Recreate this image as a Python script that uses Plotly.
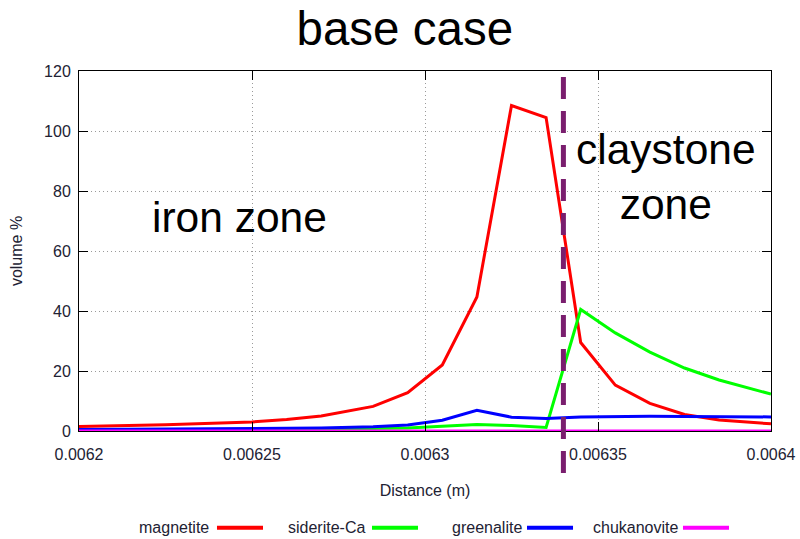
import plotly.graph_objects as go

# ---- data ----
distance = [0.0062, 0.006225, 0.00625, 0.00626, 0.00627, 0.006285, 0.006295, 0.006305,
            0.006315, 0.006325, 0.006335, 0.006345, 0.006355, 0.006365, 0.006375,
            0.006385, 0.006395, 0.0064]
magnetite = [1.5, 2.1, 3.0, 3.8, 5.0, 8.2, 12.8, 22.0, 44.7, 108.5, 104.5, 29.5, 15.3,
             9.2, 5.5, 3.7, 2.8, 2.4]
siderite_ca = [0.3, 0.4, 0.5, 0.55, 0.6, 0.8, 1.0, 1.5, 2.2, 1.8, 1.2, 40.5, 32.7, 26.3,
               21.0, 17.0, 13.7, 12.3]
greenalite = [0.5, 0.6, 0.7, 0.8, 1.0, 1.4, 2.0, 3.6, 6.9, 4.6, 4.2, 4.7, 4.9, 4.9, 4.8,
              4.8, 4.7, 4.7]
chukanovite = [0.0] * len(distance)

series_names = ["magnetite", "siderite-Ca", "greenalite", "chukanovite"]
series_values = [magnetite, siderite_ca, greenalite, chukanovite]
series_colors = ["#FF0000", "#00FF00", "#0000FF", "#FF00FF"]

x_tickvals = [0.0062, 0.00625, 0.0063, 0.00635, 0.0064]
x_ticktext = ["0.0062", "0.00625", "0.0063", "0.00635", "0.0064"]
y_tickvals = [0, 20, 40, 60, 80, 100, 120]

interface_x = 0.00634

FONT = "Liberation Sans, Arial, sans-serif"
TXT = "#222233"

fig = go.Figure()
for name, vals, col in zip(series_names, series_values, series_colors):
    fig.add_trace(go.Scatter(x=distance, y=vals, mode="lines", name=name,
                             line=dict(color=col, width=3), showlegend=False))

# dashed interface line
fig.add_shape(type="line", xref="x", yref="paper", x0=interface_x, x1=interface_x,
              y0=-0.117, y1=1.012, line=dict(color="#7A1E6E", width=5, dash="22px,12px"))

# custom legend (text then line sample), paper coordinates
leg_text_right = [0.1905, 0.4159, 0.6428, 0.8682]
leg_line_x0 = [0.1994, 0.4234, 0.6474, 0.8728]
leg_y = -0.269
for name, col, tx, lx in zip(series_names, series_colors, leg_text_right, leg_line_x0):
    fig.add_annotation(xref="paper", yref="paper", x=tx, y=leg_y, text=name,
                       showarrow=False, xanchor="right", yanchor="middle",
                       font=dict(family=FONT, size=16, color=TXT))
    fig.add_shape(type="line", xref="paper", yref="paper", x0=lx, x1=lx + 0.0665,
                  y0=leg_y, y1=leg_y, line=dict(color=col, width=4))

fig.add_annotation(xref="paper", yref="paper", x=0.232, y=0.592, text="iron zone",
                   showarrow=False, xanchor="center", yanchor="middle",
                   font=dict(family=FONT, size=42.5, color="black"))
fig.add_annotation(xref="paper", yref="paper", x=0.848, y=0.706, text="claystone<br>zone",
                   showarrow=False, xanchor="center", yanchor="middle",
                   font=dict(family=FONT, size=42.5, color="black"))

axis_common = dict(showline=True, linecolor="black", linewidth=1, mirror="ticks",
                   ticks="inside", ticklen=9, tickcolor="black",
                   showgrid=True, gridcolor="#9A9A9A", griddash="1px,3px", gridwidth=1,
                   zeroline=False, automargin=False,
                   tickfont=dict(family=FONT, size=16, color=TXT))

fig.update_xaxes(range=[0.0062, 0.0064], tickvals=x_tickvals, ticktext=x_ticktext,
                 ticklabelstandoff=9,
                 title=dict(text="Distance (m)", font=dict(family=FONT, size=16, color=TXT),
                            standoff=22),
                 **axis_common)
fig.update_yaxes(range=[0, 120], tickvals=y_tickvals, ticklabelstandoff=4,
                 title=dict(text="volume %", font=dict(family=FONT, size=16, color=TXT),
                            standoff=17),
                 **axis_common)

fig.update_layout(
    width=800, height=539,
    margin=dict(l=79, r=29, t=71, b=108),
    paper_bgcolor="white", plot_bgcolor="white",
    title=dict(text="base case", x=0.506, xanchor="center", y=0.948, yanchor="middle",
               yref="container", font=dict(family=FONT, size=47.5, color="black")),
    showlegend=False,
)

fig.write_html("out.html", config={"displayModeBar": False},
               post_script="document.body.style.margin='0';document.body.style.padding='0';")
